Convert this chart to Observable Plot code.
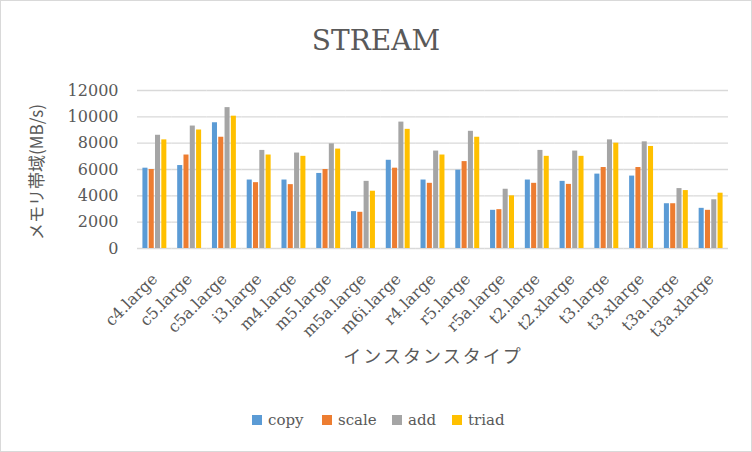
<!DOCTYPE html>
<html>
<head>
<meta charset="utf-8">
<script src="https://cdn.jsdelivr.net/npm/d3@7"></script>
<script src="https://cdn.jsdelivr.net/npm/@observablehq/plot@0.6"></script>
<style>
  html, body { margin: 0; padding: 0; background: #fff; }
  #wrap { position: relative; width: 752px; height: 452px; overflow: hidden; }
  #border { position: absolute; left: 0; top: 0; width: 750px; height: 450px; border: 1px solid #d9d9d9; pointer-events: none; }
  .lg { position: absolute; top: 409px; height: 22px; line-height: 22px; font-family: 'DejaVu Serif', serif; font-size: 15px; color: #595959; white-space: nowrap; }
  .sw { display: inline-block; width: 10px; height: 10px; margin-right: 6px; vertical-align: -0px; }
</style>
</head>
<body>
<div id="wrap"><div id="border"></div></div>
<script>
const categories = ["c4.large","c5.large","c5a.large","i3.large","m4.large","m5.large","m5a.large","m6i.large","r4.large","r5.large","r5a.large","t2.large","t2.xlarge","t3.large","t3.xlarge","t3a.large","t3a.xlarge"];
const series = ["copy","scale","add","triad"];
const copy  = [6100, 6300, 9550, 5200, 5200, 5700, 2800, 6700, 5200, 5950, 2900, 5200, 5100, 5650, 5500, 3400, 3050];
const scale = [6000, 7100, 8450, 5000, 4850, 6000, 2750, 6100, 4950, 6600, 2950, 4950, 4870, 6150, 6150, 3400, 2900];
const add   = [8600, 9300,10700, 7450, 7250, 7950, 5100, 9600, 7400, 8900, 4500, 7450, 7400, 8250, 8100, 4550, 3700];
const triad = [8250, 9000,10050, 7100, 7000, 7550, 4350, 9050, 7100, 8450, 4000, 7000, 7000, 8000, 7750, 4400, 4200];
const yTicks = [0, 2000, 4000, 6000, 8000, 10000, 12000];
const colors = ["#5B9BD5", "#ED7D31", "#A5A5A5", "#FFC000"];

const seriesValues = [copy, scale, add, triad];
const data = categories.flatMap((c, i) => series.map((s, j) => ({category: c, series: s, value: seriesValues[j][i]})));

const textColor = "#595959";
const serif = "'DejaVu Serif', serif";
const cjk = "'Noto Sans CJK JP', sans-serif";
const chart = Plot.plot({
  width: 752,
  height: 452,
  marginLeft: 137,
  marginRight: 24,
  marginTop: 90,
  marginBottom: 204,
  style: {fontFamily: serif, fontSize: "16px", color: textColor, background: "transparent"},
  fx: {domain: categories, padding: 0, round: false, label: null},
  x: {domain: series, axis: null, paddingInner: 0.2, paddingOuter: 0.86, round: false},
  y: {domain: [0, 12000], label: null},
  color: {domain: series, range: colors},
  marks: [
    Plot.gridY(yTicks, {stroke: "#d9d9d9", strokeOpacity: 1, strokeWidth: 1.4}),
    Plot.barY(data, {fx: "category", x: "series", y: "value", fill: "series"}),
    Plot.axisY(yTicks, {tickSize: 0, tickPadding: 19, label: null, fill: textColor, fontSize: 16, tickFormat: d => String(d)}),
    Plot.axisFx({anchor: "bottom", tickRotate: -45, tickSize: 0, tickPadding: 28, label: null, fill: textColor, fontSize: 16})
  ]
});
chart.style.position = "absolute";
chart.style.left = "0px";
chart.style.top = "0px";
const wrap = document.getElementById("wrap");
wrap.prepend(chart);

const svg = d3.select(chart);
svg.append("text")
  .attr("x", 376).attr("y", 50)
  .attr("text-anchor", "middle")
  .style("font-family", serif)
  .style("font-size", "28px")
  .attr("fill", textColor)
  .text("STREAM");

svg.append("text")
  .attr("transform", "translate(43,172) rotate(-90)")
  .attr("text-anchor", "middle")
  .style("font-family", cjk)
  .style("font-size", "17px")
  .attr("fill", textColor)
  .text("メモリ帯域(MB/s)");

svg.append("text")
  .attr("x", 433).attr("y", 363)
  .attr("text-anchor", "middle")
  .style("font-family", cjk)
  .style("font-size", "18px")
  .style("letter-spacing", "2px")
  .attr("fill", textColor)
  .text("インスタンスタイプ");

const legendX = [252, 322, 392, 452];
series.forEach((s, i) => {
  const item = document.createElement("div");
  item.className = "lg";
  item.style.left = legendX[i] + "px";
  const sw = document.createElement("span");
  sw.className = "sw";
  sw.style.background = colors[i];
  item.appendChild(sw);
  item.appendChild(document.createTextNode(s));
  wrap.appendChild(item);
});
</script>
</body>
</html>
